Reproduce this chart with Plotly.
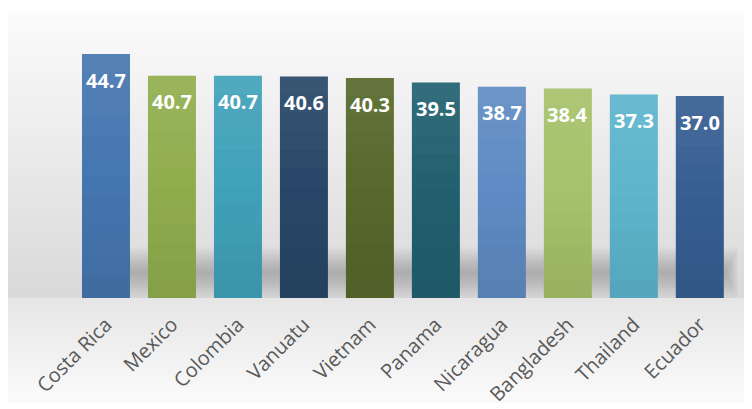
import plotly.graph_objects as go

countries = ["Costa Rica", "Mexico", "Colombia", "Vanuatu", "Vietnam",
             "Panama", "Nicaragua", "Bangladesh", "Thailand", "Ecuador"]
values = [44.7, 40.7, 40.7, 40.6, 40.3, 39.5, 38.7, 38.4, 37.3, 37.0]
bar_colors = ["#4676b0", "#91ae4e", "#41a2ba", "#284768", "#57692c",
              "#22606f", "#5f8bc4", "#a6c26a", "#5db5cc", "#375e92"]

# page offset of 8px (body margin) -> figure coordinates
W, H = 744, 401
ML, MR, MT, MB = 65, 6, 28, 111
PW, PH = W - ML - MR, H - MT - MB
BAR_W = 48 / 66


def px2paper_x(px):
    return (px - ML) / PW


def px2paper_y(py):
    return (H - MB - py) / PH


def gray(v):
    v = int(round(v))
    return f"rgb({v},{v},{v})"


shapes = []
top, base, bottom = 5, 290, 395
n = 57
for i in range(n):
    y0 = top + (base - top) * i / n
    y1 = top + (base - top) * (i + 1) / n
    t = (i + 0.5) / n
    shapes.append(dict(type="rect", xref="paper", yref="paper", layer="below",
                       x0=px2paper_x(0), x1=px2paper_x(W + 2),
                       y0=px2paper_y(y1), y1=px2paper_y(y0),
                       line=dict(width=0), fillcolor=gray(251 - 34 * t)))
n2 = 21
for i in range(n2):
    y0 = base + (bottom - base) * i / n2
    y1 = base + (bottom - base) * (i + 1) / n2
    t = (i + 0.5) / n2
    shapes.append(dict(type="rect", xref="paper", yref="paper", layer="below",
                       x0=px2paper_x(0), x1=px2paper_x(W + 2),
                       y0=px2paper_y(y1), y1=px2paper_y(y0),
                       line=dict(width=0), fillcolor=gray(229 + 22 * t)))
# soft shadow band behind bars
nl = 10
center, half = 4.6, 4.6
for k in range(1, nl + 1):
    h = half * k / nl
    shapes.append(dict(type="rect", xref="x", yref="y", layer="below",
                       x0=0.36, x1=9.38 + 0.2 * k / nl,
                       y0=max(center - h, 0), y1=center + h,
                       line=dict(width=0), fillcolor="rgba(60,60,60,0.03)"))

# subtle vertical shading on each bar (lighter top, darker bottom)
ns = 12
for i, v in enumerate(values):
    for k in range(ns):
        t = (k + 0.5) / ns
        d = (t - 0.5) * 0.17
        col = "rgba(255,255,255,%.3f)" % d if d > 0 else "rgba(0,0,0,%.3f)" % (-d)
        shapes.append(dict(type="rect", xref="x", yref="y", layer="above",
                           x0=i - BAR_W / 2, x1=i + BAR_W / 2,
                           y0=v * k / ns, y1=v * (k + 1) / ns,
                           line=dict(width=0), fillcolor=col))

fig = go.Figure(go.Bar(
    x=countries, y=values,
    marker=dict(color=bar_colors, line=dict(width=0)),
    width=BAR_W,
    hoverinfo="skip",
))

annotations = []
for c, v in zip(countries, values):
    annotations.append(dict(x=c, y=v, text=f"{v:.1f}", showarrow=False,
                            yanchor="middle", yshift=-26,
                            font=dict(family="Open Sans", size=20, color="white",
                                      weight="bold")))

fig.update_layout(
    width=W, height=H,
    margin=dict(l=ML, r=MR, t=MT, b=MB, autoexpand=False),
    paper_bgcolor="white", plot_bgcolor="rgba(0,0,0,0)",
    shapes=shapes, annotations=annotations,
    showlegend=False,
    xaxis=dict(range=[-0.5, 9.7], showgrid=False, zeroline=False, showline=False,
               ticks="", tickangle=-45, ticklabelstandoff=10, automargin=False,
               tickfont=dict(family="Open Sans", size=20, color="#595959")),
    yaxis=dict(range=[0, 48], visible=False, showgrid=False, zeroline=False,
               automargin=False),
)

fig.write_html("out.html")
